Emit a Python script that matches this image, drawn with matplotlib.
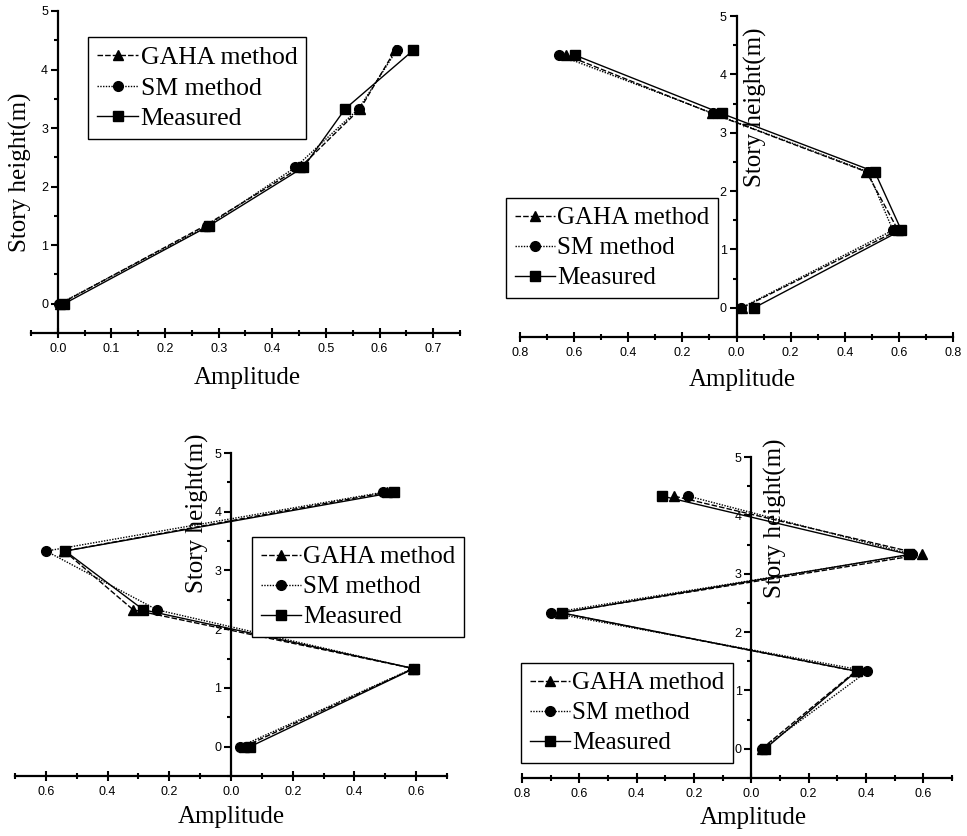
import matplotlib
matplotlib.use("Agg")
import matplotlib.pyplot as plt
from matplotlib.ticker import MultipleLocator, FuncFormatter

# Data
heights = [0.0, 1.33, 2.33, 3.33, 4.33]
series_names = ["GAHA method", "SM method", "Measured"]

p1_gaha = [0.005, 0.274, 0.452, 0.564, 0.629]
p1_sm = [0.003, 0.279, 0.443, 0.561, 0.632]
p1_meas = [0.012, 0.282, 0.458, 0.536, 0.663]

p2_gaha = [0.022, 0.597, 0.480, -0.090, -0.630]
p2_sm = [0.018, 0.578, 0.486, -0.086, -0.656]
p2_meas = [0.065, 0.609, 0.511, -0.055, -0.597]

p3_gaha = [0.043, 0.591, -0.317, -0.540, 0.504]
p3_sm = [0.029, 0.589, -0.240, -0.599, 0.491]
p3_meas = [0.062, 0.593, -0.284, -0.537, 0.529]

p4_gaha = [0.036, 0.364, -0.666, 0.597, -0.270]
p4_sm = [0.038, 0.405, -0.698, 0.562, -0.220]
p4_meas = [0.048, 0.367, -0.662, 0.551, -0.311]

x_label = "Amplitude"
y_label = "Story height(m)"

plt.rcParams['font.family'] = ['Liberation Sans', 'DejaVu Sans']
serif = ['Liberation Serif', 'DejaVu Serif']

W, H = 967, 836
fig = plt.figure(figsize=(W / 100, H / 100), dpi=100)

def px_axes(left, right, top, bottom):
    return [left / W, 1 - bottom / H, (right - left) / W, (bottom - top) / H]

panels = [
    dict(rect=px_axes(31, 460, 11, 333), xlim=(-0.05, 0.75), major=0.1, minor=0.05,
         data=(p1_gaha, p1_sm, p1_meas), legend=(88, 37), lsize=18.5,
         ylab=(20, 172), xlab=(247, 378)),
    dict(rect=px_axes(520, 953, 16, 337), xlim=(-0.8, 0.8), major=0.2, minor=0.1,
         data=(p2_gaha, p2_sm, p2_meas), legend=(506, 198), lsize=18,
         ylab=(755, 107), xlab=(742, 380)),
    dict(rect=px_axes(15, 447, 453, 776), xlim=(-0.7, 0.7), major=0.2, minor=0.1,
         data=(p3_gaha, p3_sm, p3_meas), legend=(252, 537), lsize=18,
         ylab=(197, 513), xlab=(231, 817)),
    dict(rect=px_axes(522, 952, 457, 778), xlim=(-0.8, 0.7), major=0.2, minor=0.1,
         data=(p4_gaha, p4_sm, p4_meas), legend=(521, 663), lsize=18,
         ylab=(775, 518), xlab=(753, 818)),
]

styles = [
    dict(linestyle=(0, (4, 1.5)), marker='^', markersize=7),
    dict(linestyle=(0, (1, 1)), marker='o', markersize=7),
    dict(linestyle='-', marker='s', markersize=6.5),
]

for p in panels:
    ax = fig.add_axes(p['rect'])
    for name, vals, st in zip(series_names, p['data'], styles):
        ax.plot(vals, heights, color='black', linewidth=1.0, label=name, **st)
    ax.set_xlim(*p['xlim'])
    ax.set_ylim(-0.5, 5)
    ax.spines['top'].set_visible(False)
    ax.spines['right'].set_visible(False)
    ax.spines['left'].set_position(('data', 0))
    for s in ('left', 'bottom'):
        ax.spines[s].set_linewidth(1.6)
    ax.xaxis.set_major_locator(MultipleLocator(p['major']))
    ax.xaxis.set_minor_locator(MultipleLocator(p['minor']))
    ax.yaxis.set_major_locator(MultipleLocator(1))
    ax.yaxis.set_minor_locator(MultipleLocator(0.5))
    ax.xaxis.set_major_formatter(FuncFormatter(lambda v, pos: f"{abs(v):.1f}"))
    ax.yaxis.set_major_formatter(FuncFormatter(lambda v, pos: f"{v:.0f}"))
    ax.tick_params(axis='x', which='major', direction='inout', length=7, width=1.5, labelsize=9, pad=4)
    ax.tick_params(axis='x', which='minor', direction='inout', length=5, width=1.5)
    ax.tick_params(axis='y', which='major', direction='out', length=5, width=1.5, labelsize=9, pad=2)
    ax.tick_params(axis='y', which='minor', direction='out', length=3, width=1.5)
    ax.patch.set_alpha(0)
    lx, ly = p['legend']
    leg = ax.legend(loc='upper left', bbox_to_anchor=(lx / W, 1 - ly / H),
                    bbox_transform=fig.transFigure, prop={'family': serif, 'size': p['lsize']},
                    frameon=True, fancybox=False, edgecolor='black', framealpha=1,
                    borderpad=0.35, labelspacing=0.3, handlelength=1.6,
                    handletextpad=0.1, borderaxespad=0)
    leg.get_frame().set_linewidth(1.0)
    yx, yy = p['ylab']
    fig.text(yx / W, 1 - yy / H, y_label, rotation=90, ha='center', va='center',
             family=serif, size=18)
    xx, xy = p['xlab']
    fig.text(xx / W, 1 - xy / H, x_label, ha='center', va='center',
             family=serif, size=18)

fig.savefig("out.png", dpi=100)
